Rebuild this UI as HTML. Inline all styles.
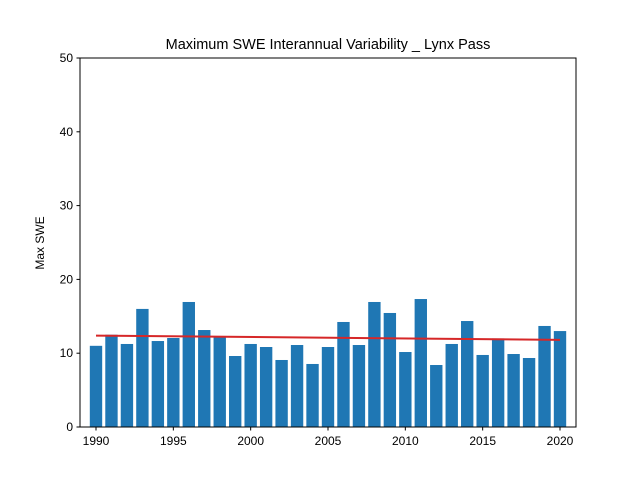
<!DOCTYPE html>
<html><head><meta charset="utf-8"><style>
body{margin:0;background:#fff;}
svg{display:block;font-family:"Liberation Sans",sans-serif;}
</style></head><body>
<svg id="chart" width="640" height="480">
<rect width="640" height="480" fill="#fff"/>
<text x="328" y="49" text-anchor="middle" font-size="14.5">Maximum SWE Interannual Variability _ Lynx Pass</text>
<text transform="translate(44,243) rotate(-90)" text-anchor="middle" font-size="12">Max SWE</text>
<g id="bars"></g><g id="axes"></g>
</svg>
<script>
const years=[1990,1991,1992,1993,1994,1995,1996,1997,1998,1999,2000,2001,2002,2003,2004,2005,2006,2007,2008,2009,2010,2011,2012,2013,2014,2015,2016,2017,2018,2019,2020];
const swe=[11.0,12.5,11.25,16.0,11.65,12.06,16.94,13.14,12.33,9.62,11.25,10.84,9.08,11.11,8.54,10.84,14.23,11.11,16.94,15.45,10.16,17.34,8.4,11.25,14.36,9.76,12.0,9.89,9.35,13.69,13.0];
const yTicks=[0,10,20,30,40,50];
const xTicks=[1990,1995,2000,2005,2010,2015,2020];
const L=80,R=576,T=58,B=427;
const xs=v=>96+(v-1990)*(560-96)/30;
const ys=v=>B-(v/50)*(B-T);
const NS='http://www.w3.org/2000/svg';
function mk(tag,attrs,parent){const e=document.createElementNS(NS,tag);for(const k in attrs)e.setAttribute(k,attrs[k]);parent.appendChild(e);return e;}
const bars=document.getElementById('bars'),axes=document.getElementById('axes');
const bw=0.8*(560-96)/30;
years.forEach((yr,i)=>{
 const r=mk('rect',{x:xs(yr)-bw/2,y:ys(swe[i]),width:bw,height:B-ys(swe[i]),fill:'#1f77b4'},bars);
 
 
});
// trend line (least squares)
const n=years.length,mx=years.reduce((a,b)=>a+b)/n,my=swe.reduce((a,b)=>a+b)/n;
let sxy=0,sxx=0;years.forEach((x,i)=>{sxy+=(x-mx)*(swe[i]-my);sxx+=(x-mx)*(x-mx);});
const m=sxy/sxx,b0=my-m*mx;
const x0=years[0],x1=years[n-1];
const tl=mk('line',{x1:xs(x0),y1:ys(m*x0+b0),x2:xs(x1),y2:ys(m*x1+b0),stroke:'#d62728','stroke-width':2},bars);


const fr=mk('rect',{x:L,y:T,width:R-L,height:B-T,fill:'none',stroke:'#000','stroke-width':1},axes);


yTicks.forEach(v=>{
 mk('line',{x1:L-3.5,x2:L,y1:ys(v),y2:ys(v),stroke:'#000'},axes);
 const t=mk('text',{x:L-7,y:ys(v)+4,'text-anchor':'end','font-size':12},axes);t.textContent=v;
 
 
});
xTicks.forEach(v=>{
 mk('line',{x1:xs(v),x2:xs(v),y1:B,y2:B+3.5,stroke:'#000'},axes);
 const t=mk('text',{x:xs(v),y:B+18,'text-anchor':'middle','font-size':12},axes);t.textContent=v;
 
 
});
</script>
</body></html>
